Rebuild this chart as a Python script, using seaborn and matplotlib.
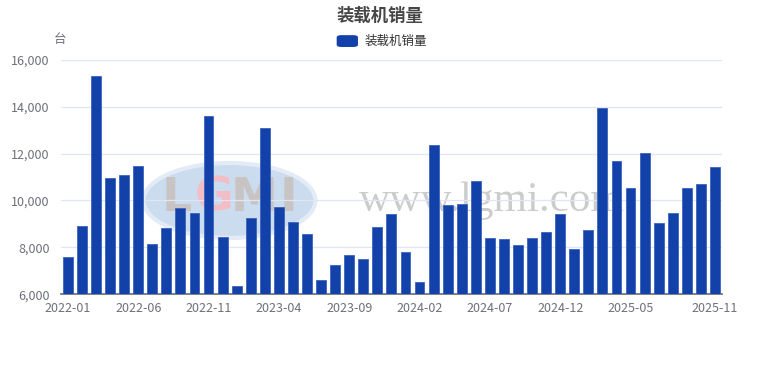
import matplotlib
matplotlib.use("Agg")
import matplotlib.pyplot as plt
from matplotlib.patches import Ellipse, FancyBboxPatch
import seaborn as sns
import pandas as pd

# months 2022-01 .. 2025-11
months = pd.period_range("2022-01", "2025-11", freq="M").strftime("%Y-%m").tolist()
sales = [7600, 8890, 15320, 10980, 11070, 11460, 8160, 8820, 9670, 9460,
         13600, 8420, 6360, 9270, 13100, 9700, 9070, 8560, 6590, 7240,
         7690, 7520, 8880, 9430, 7810, 6500, 12350, 9790, 9830, 10810,
         8390, 8350, 8090, 8380, 8660, 9430, 7940, 8760, 13930, 11680,
         10550, 12030, 9020, 9460, 10550, 10700, 11450]
label_idx = [0, 5, 10, 15, 20, 25, 30, 35, 40, 46]
tick_bounds = [0, 5, 10, 15, 20, 25, 30, 35, 40, 45, 47]

df = pd.DataFrame({"month": months, "sales": sales})

sns.set_theme(style="white")
plt.rcParams["font.family"] = ["Noto Sans CJK SC", "DejaVu Sans"]

fig = plt.figure(figsize=(7.6, 3.7), dpi=100)
ax = fig.add_axes([0.080, 0.205, 0.870, 0.633])

# watermark
ax.add_patch(Ellipse((0.255, 0.40), 0.26, 0.32, transform=ax.transAxes,
                     facecolor="#cbdcef", edgecolor="#e2ebf6", lw=3, zorder=0))
for ch, xx, col in [("L", 0.175, "#c8c4c4"), ("G", 0.232, "#f4bcc4"),
                    ("M", 0.292, "#c8c4c4"), ("I", 0.345, "#c8c4c4")]:
    ax.text(xx, 0.41, ch, transform=ax.transAxes, ha="center", va="center",
            fontsize=34, fontweight="bold", color=col, family="DejaVu Sans", zorder=0)
ax.text(0.652, 0.40, "www.lgmi.com", transform=ax.transAxes, ha="center", va="center",
        fontsize=31, color="#cccccc", family="Liberation Serif", zorder=0)

sns.barplot(data=df, x="month", y="sales", color="#1241a9", saturation=1,
            width=0.7, edgecolor="#3b63bd", linewidth=0.6, ax=ax, zorder=3)

ax.set_ylim(6000, 16000)
ax.set_xlim(-0.5, len(months) - 0.5)
ax.set_yticks(range(6000, 16001, 2000))
ax.set_yticklabels([f"{v:,}" for v in range(6000, 16001, 2000)])
ax.yaxis.grid(True, color="#e0e6f1", lw=0.9, zorder=0)
ax.set_axisbelow(True)

ax.set_xticks(label_idx)
ax.set_xticklabels([months[i] for i in label_idx])
ax.tick_params(axis="x", length=0, pad=6, labelsize=9, labelcolor="#6e7079")
ax.tick_params(axis="y", length=0, pad=8, labelsize=9, labelcolor="#6e7079")
ax.set_xticks([b - 0.5 for b in tick_bounds], minor=True)
ax.tick_params(axis="x", which="minor", length=4, color="#6e7079", width=1)

for s in ["top", "right", "left"]:
    ax.spines[s].set_visible(False)
ax.spines["bottom"].set_color("#6e7079")
ax.set_xlabel("")
ax.set_ylabel("")

fig.text(0.5, 0.958, "装载机销量", ha="center", va="center", fontsize=12.5,
         fontweight="bold", color="#464646")
fig.patches.append(FancyBboxPatch((0.443, 0.873), 0.028, 0.032, boxstyle="round,pad=0,rounding_size=0.006",
                                  transform=fig.transFigure, facecolor="#1241a9", edgecolor="none"))
fig.text(0.479, 0.889, "装载机销量", ha="left", va="center", fontsize=9, color="#333333")
fig.text(0.079, 0.892, "台", ha="center", va="center", fontsize=9, color="#6e7079")

fig.savefig("out.png", dpi=100)
